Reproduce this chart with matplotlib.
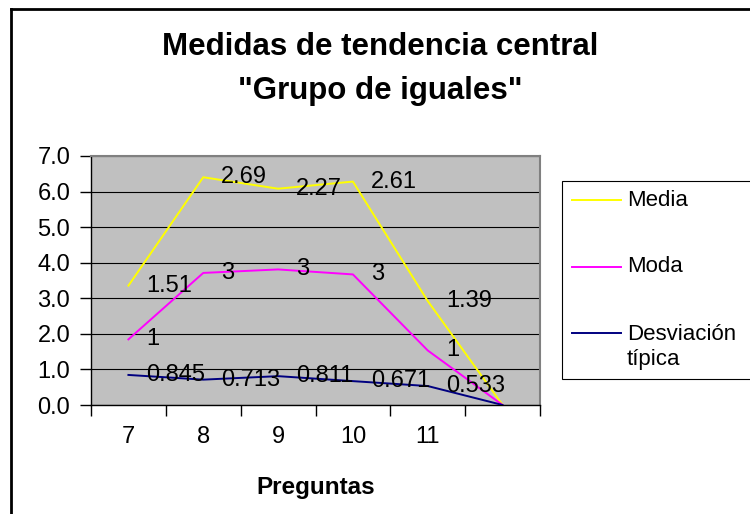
import numpy as np
import matplotlib
matplotlib.use('Agg')
import matplotlib.pyplot as plt
from matplotlib.patches import Rectangle
from matplotlib.lines import Line2D

plt.rcParams['font.family'] = ['Liberation Sans', 'DejaVu Sans']

preguntas = ['7', '8', '9', '10', '11', '']
desviacion = [0.845, 0.713, 0.811, 0.671, 0.533, 0]
moda = [1, 3, 3, 3, 1, 0]
media = [1.51, 2.69, 2.27, 2.61, 1.39, 0]
series_names = ['Media', 'Moda', 'Desviación\ntípica']
colors = ['#FFFF00', '#FF00FF', '#000080']

W, H = 750, 514
fig = plt.figure(figsize=(W / 100, H / 100), dpi=100)

def fx(px):
    return px / W

def fy(py):
    return 1 - py / H

# outer frame of the chart, only top and left sides are inside the picture
fig.add_artist(Line2D([fx(11), 1.0], [fy(9), fy(9)], color='black', linewidth=2,
                      transform=fig.transFigure))
fig.add_artist(Line2D([fx(11), fx(11)], [0.0, fy(9)], color='black', linewidth=2,
                      transform=fig.transFigure))

ax = fig.add_axes([fx(91), fy(405), fx(540 - 91), (405 - 156) / H])
ax.set_facecolor('#C0C0C0')

x = np.arange(len(preguntas))
# stacked line chart: each series sits on top of the previous ones
base = np.zeros(len(x))
stacks = []
for vals in [desviacion, moda, media]:
    base = base + np.array(vals)
    stacks.append(base.copy())

order = [(media, stacks[2], colors[0]), (moda, stacks[1], colors[1]), (desviacion, stacks[0], colors[2])]
for vals, top, c in order:
    ax.plot(x, top, color=c, linewidth=1.4, zorder=3)
    for i in range(5):
        ax.annotate('{:g}'.format(vals[i]), (x[i], top[i]), xytext=(18, 0),
                    textcoords='offset pixels', ha='left', va='center',
                    fontsize=17, color='black', zorder=4)

ax.set_xlim(-0.5, len(preguntas) - 0.5)
ax.set_ylim(0, 7)
ax.set_yticks(np.arange(0, 7.5, 1.0))
ax.set_yticklabels(['{:.1f}'.format(v) for v in np.arange(0, 7.5, 1.0)], fontsize=17)
ax.set_xticks(x)
ax.set_xticklabels(preguntas, fontsize=17)
ax.set_xticks(np.arange(-0.5, len(preguntas)), minor=True)
ax.tick_params(axis='x', which='major', length=0, pad=15)
ax.tick_params(axis='x', which='minor', length=8, width=1, direction='out')
ax.tick_params(axis='y', length=8, width=1, direction='out', pad=7)
ax.grid(axis='y', color='black', linewidth=0.8)
ax.set_axisbelow(True)
for s in ['top', 'right']:
    ax.spines[s].set_color('#808080')
    ax.spines[s].set_linewidth(1.5)
for s in ['left', 'bottom']:
    ax.spines[s].set_color('black')
    ax.spines[s].set_linewidth(1.0)

ax.set_xlabel('Preguntas', fontsize=17.5, fontweight='bold', labelpad=20)

fig.text(fx(380), fy(47), 'Medidas de tendencia central', ha='center', va='center',
         fontsize=22.5, fontweight='bold')
fig.text(fx(380), fy(91), '"Grupo de iguales"', ha='center', va='center',
         fontsize=22.5, fontweight='bold')

# legend box, its right side runs past the picture edge
fig.patches.append(Rectangle((fx(562), fy(379)), fx(300), (379 - 181) / H, transform=fig.transFigure,
                             fill=True, facecolor='white', edgecolor='black', linewidth=0.8))
legend_y = [200, 267, 347]
line_y = [200, 267, 333]
for name, c, ty, ly in zip(series_names, colors, legend_y, line_y):
    fig.add_artist(Line2D([fx(572), fx(621)], [fy(ly), fy(ly)], color=c, linewidth=1.4,
                          transform=fig.transFigure))
    fig.text(fx(627), fy(ty), name, ha='left', va='center', fontsize=16, linespacing=1.25)

fig.savefig('out.png', dpi=100)
